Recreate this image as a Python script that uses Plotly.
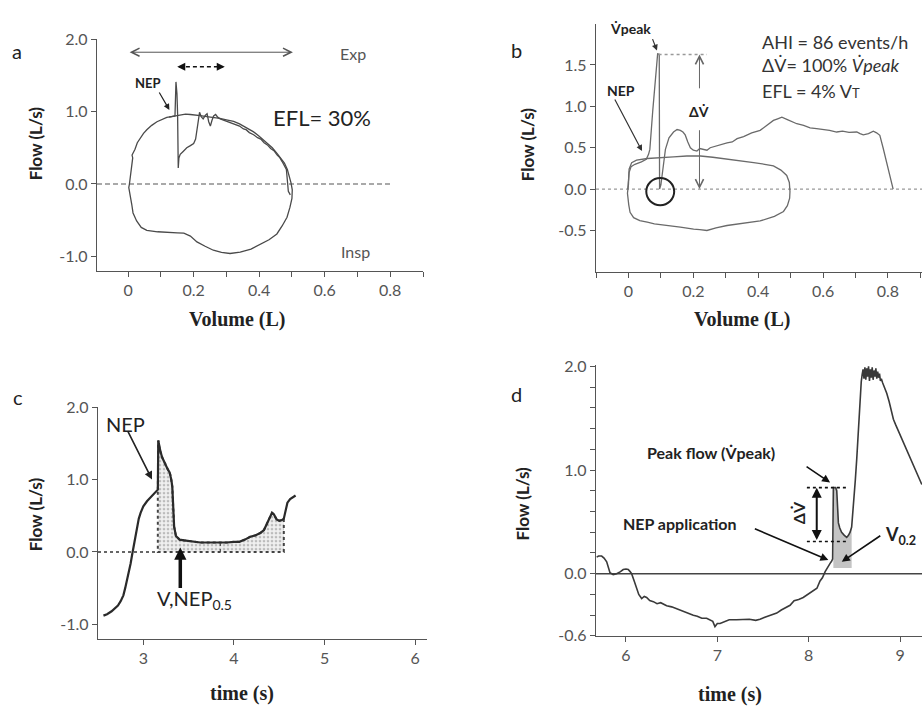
import plotly.graph_objects as go

W, H = 922, 714
def PX(x): return x / W
def PY(y): return 1 - y / H

SANS = "Lato"
SERIF = "Liberation Serif"
AX = "#555555"

# ---------------- data ----------------
# panel a : control loop + NEP breath (volume L, flow L/s)
a_ctrl_vol = [0.004, 0.007, 0.011, 0.014, 0.012, 0.021, 0.028, 0.037, 0.047, 0.057, 0.072, 0.088, 0.103, 0.118,
              0.132, 0.144, 0.160, 0.175, 0.190, 0.205, 0.220, 0.240, 0.260, 0.280, 0.300, 0.322, 0.340, 0.360,
              0.383, 0.400, 0.423, 0.440, 0.455, 0.466, 0.477, 0.486, 0.493, 0.497, 0.501, 0.500, 0.494, 0.485,
              0.470, 0.454, 0.430, 0.403, 0.375, 0.342, 0.311, 0.285, 0.260, 0.235, 0.210, 0.190, 0.170, 0.150,
              0.118, 0.090, 0.057, 0.040, 0.026, 0.015, 0.011, 0.006, 0.002, 0.004]
a_ctrl_flow = [0.00, 0.12, 0.30, 0.36, 0.40, 0.48, 0.57, 0.64, 0.70, 0.75, 0.81, 0.86, 0.89, 0.92,
               0.93, 0.94, 0.955, 0.965, 0.96, 0.955, 0.945, 0.93, 0.92, 0.905, 0.885, 0.865, 0.83, 0.78,
               0.72, 0.66, 0.57, 0.50, 0.42, 0.36, 0.29, 0.20, 0.10, 0.02, -0.08, -0.20, -0.32, -0.46,
               -0.58, -0.69, -0.77, -0.83, -0.90, -0.94, -0.96, -0.945, -0.915, -0.86, -0.80, -0.72, -0.68, -0.675,
               -0.67, -0.66, -0.64, -0.60, -0.51, -0.40, -0.28, -0.15, -0.05, 0.00]
a_nep_vol = [0.125, 0.135, 0.143, 0.146, 0.149, 0.151, 0.153, 0.155, 0.159, 0.168, 0.179, 0.190, 0.200, 0.206,
             0.210, 0.214, 0.218, 0.223, 0.229, 0.236, 0.241, 0.246, 0.251, 0.256, 0.261, 0.267, 0.274, 0.281,
             0.300, 0.320, 0.340, 0.352, 0.360, 0.370, 0.383, 0.395, 0.405, 0.415, 0.425, 0.435, 0.445, 0.455,
             0.462, 0.470, 0.478, 0.483, 0.485, 0.486, 0.489, 0.495]
a_nep_flow = [0.925, 0.935, 0.94, 1.41, 1.25, 0.97, 0.22, 0.36, 0.41, 0.45, 0.50, 0.53, 0.56, 0.62,
              0.75, 0.93, 0.99, 0.93, 0.90, 0.95, 0.97, 0.86, 0.80, 0.88, 0.94, 0.96, 0.92, 0.90,
              0.87, 0.84, 0.80, 0.76, 0.75, 0.71, 0.68, 0.64, 0.62, 0.57, 0.54, 0.49, 0.46, 0.40,
              0.37, 0.31, 0.25, 0.20, 0.10, 0.00, -0.10, -0.15]

# panel b
b_ctrl_vol = [0.000, 0.002, 0.010, 0.025, 0.058, 0.100, 0.139, 0.180, 0.222, 0.260, 0.304, 0.350, 0.386, 0.420,
              0.447, 0.470, 0.488, 0.496, 0.498, 0.497, 0.490, 0.478, 0.450, 0.406, 0.360, 0.304, 0.270, 0.242,
              0.220, 0.201, 0.160, 0.119, 0.080, 0.058, 0.035, 0.016, 0.005, 0.001, -0.003, 0.000]
b_ctrl_flow = [0.05, 0.24, 0.32, 0.35, 0.37, 0.385, 0.39, 0.40, 0.40, 0.385, 0.365, 0.34, 0.32, 0.30,
               0.28, 0.23, 0.165, 0.08, -0.03, -0.11, -0.20, -0.27, -0.33, -0.385, -0.41, -0.44, -0.47, -0.50,
               -0.49, -0.485, -0.46, -0.44, -0.42, -0.40, -0.38, -0.345, -0.28, -0.19, -0.05, 0.05]
b_nep_vol = [-0.002, 0.002, 0.008, 0.020, 0.040, 0.055, 0.062, 0.066, 0.075, 0.082, 0.090, 0.095, 0.096, 0.100,
             0.108, 0.114, 0.125, 0.139, 0.150, 0.160, 0.168, 0.175, 0.183, 0.191, 0.200, 0.211, 0.220, 0.232,
             0.242, 0.252, 0.270, 0.290, 0.304, 0.320, 0.335, 0.355, 0.380, 0.406, 0.420, 0.435, 0.447, 0.460,
             0.473, 0.490, 0.505, 0.519, 0.540, 0.560, 0.580, 0.600, 0.620, 0.642, 0.660, 0.680, 0.704, 0.714,
             0.724, 0.740, 0.755, 0.765, 0.775, 0.785, 0.796, 0.806, 0.816]
b_nep_flow = [0.00, 0.20, 0.27, 0.30, 0.33, 0.36, 0.42, 0.48, 0.95, 1.30, 1.635, 1.63, 0.00, 0.05,
              0.30, 0.48, 0.62, 0.69, 0.72, 0.71, 0.69, 0.655, 0.57, 0.50, 0.47, 0.46, 0.49, 0.48,
              0.47, 0.50, 0.52, 0.55, 0.56, 0.57, 0.61, 0.635, 0.68, 0.71, 0.75, 0.79, 0.83, 0.85,
              0.87, 0.84, 0.81, 0.79, 0.77, 0.74, 0.73, 0.72, 0.71, 0.69, 0.70, 0.685, 0.69, 0.67,
              0.655, 0.67, 0.70, 0.68, 0.65, 0.50, 0.32, 0.15, 0.00]

# panel c (time s, flow L/s)
c_time = [2.56, 2.60, 2.65, 2.68, 2.72, 2.75, 2.78, 2.80, 2.82, 2.84, 2.86, 2.875, 2.89, 2.91, 2.93, 2.95, 2.97,
          3.00, 3.04, 3.07, 3.10, 3.13, 3.15, 3.16, 3.165, 3.175, 3.19, 3.21, 3.23, 3.25, 3.27, 3.29, 3.30,
          3.31, 3.32, 3.325, 3.33, 3.34, 3.36, 3.40, 3.45, 3.50, 3.55, 3.63, 3.70, 3.78, 3.85, 3.92, 4.00,
          4.06, 4.12, 4.18, 4.24, 4.29, 4.33, 4.36, 4.39, 4.42, 4.44, 4.47, 4.50, 4.53, 4.55, 4.57, 4.59,
          4.62, 4.65, 4.68]
c_flow = [-0.88, -0.86, -0.82, -0.79, -0.74, -0.68, -0.60, -0.50, -0.40, -0.28, -0.16, -0.05, 0.06, 0.22, 0.36,
          0.46, 0.54, 0.63, 0.70, 0.74, 0.78, 0.82, 0.85, 0.86, 1.54, 1.46, 1.38, 1.30, 1.24, 1.20, 1.14, 1.10,
          1.06, 0.99, 0.90, 0.75, 0.57, 0.35, 0.22, 0.17, 0.16, 0.15, 0.14, 0.13, 0.13, 0.13, 0.12, 0.13, 0.14,
          0.14, 0.17, 0.21, 0.23, 0.26, 0.30, 0.38, 0.48, 0.54, 0.52, 0.45, 0.43, 0.44, 0.46, 0.58, 0.68,
          0.73, 0.76, 0.78]
c_shade = (3.16, 4.55)
c_midline_t = 3.85

# panel d
d_time = [5.679, 5.70, 5.734, 5.76, 5.789, 5.81, 5.825, 5.86, 5.898, 5.94, 5.97, 6.00, 6.025, 6.045, 6.062,
          6.09, 6.117, 6.14, 6.172, 6.20, 6.226, 6.26, 6.30, 6.34, 6.38, 6.445, 6.50, 6.555, 6.60, 6.65,
          6.70, 6.737, 6.78, 6.83, 6.883, 6.92, 6.95, 6.974, 7.00, 7.03, 7.08, 7.13, 7.21, 7.28, 7.35,
          7.42, 7.467, 7.52, 7.58, 7.65, 7.70, 7.75, 7.796, 7.84, 7.89, 7.94, 7.99, 8.05, 8.09, 8.124,
          8.15, 8.18, 8.21, 8.234, 8.25, 8.262, 8.27, 8.28, 8.295, 8.307, 8.315, 8.325, 8.34, 8.36, 8.39,
          8.416, 8.435, 8.453, 8.47, 8.49, 8.51, 8.526, 8.545, 8.562, 8.575, 8.585, 8.595, 8.605, 8.615,
          8.625, 8.635, 8.645, 8.655, 8.665, 8.675, 8.685, 8.695, 8.705, 8.715, 8.725, 8.735, 8.745, 8.755,
          8.765, 8.775, 8.785, 8.795, 8.81, 8.83, 8.854, 8.88, 8.90, 8.927, 8.95, 8.98, 9.01, 9.036,
          9.06, 9.09, 9.12, 9.146, 9.17, 9.20, 9.238]
d_flow = [0.16, 0.17, 0.17, 0.15, 0.115, 0.06, 0.01, -0.01, 0.0, 0.02, 0.04, 0.045, 0.04, 0.02, 0.0,
          -0.07, -0.13, -0.20, -0.24, -0.22, -0.23, -0.26, -0.27, -0.29, -0.28, -0.31, -0.32, -0.34, -0.35, -0.37,
          -0.39, -0.40, -0.41, -0.43, -0.43, -0.45, -0.46, -0.51, -0.48, -0.48, -0.46, -0.445, -0.445, -0.44, -0.44,
          -0.45, -0.44, -0.42, -0.40, -0.38, -0.35, -0.33, -0.305, -0.26, -0.25, -0.23, -0.20, -0.165, -0.14, -0.07,
          -0.04, 0.02, 0.07, 0.10, 0.12, 0.14, 0.83, 0.83, 0.83, 0.80, 0.62, 0.49, 0.44, 0.40, 0.37,
          0.35, 0.37, 0.40, 0.45, 0.65, 0.90, 1.11, 1.45, 1.74, 1.85, 1.92, 1.97, 1.88, 1.99,
          1.87, 1.98, 1.90, 2.00, 1.86, 1.97, 1.89, 1.99, 1.87, 1.96, 1.90, 1.98, 1.88, 1.95,
          1.89, 1.93, 1.86, 1.88, 1.84, 1.80, 1.74, 1.66, 1.58, 1.49, 1.44, 1.38, 1.32, 1.27,
          1.22, 1.16, 1.10, 1.05, 1.00, 0.93, 0.86]
d_shade = (8.27, 8.47)
d_shade_base = 0.055
d_peak_level = 0.83
d_low_level = 0.31

assert len(a_ctrl_vol) == len(a_ctrl_flow)
assert len(a_nep_vol) == len(a_nep_flow)
assert len(b_ctrl_vol) == len(b_ctrl_flow)
assert len(b_nep_vol) == len(b_nep_flow)
assert len(c_time) == len(c_flow)
assert len(d_time) == len(d_flow)

# ticks / ranges
a_xrange, a_yrange = [-0.095, 0.9], [-1.2, 2.0]
b_xrange, b_yrange = [-0.1, 0.905], [-1.0, 2.0]
c_xrange, c_yrange = [2.5, 6.13], [-1.2, 2.0]
d_xrange, d_yrange = [5.672, 9.24], [-0.6, 2.01]
a_xticks, a_xlabels = [0, 0.2, 0.4, 0.6, 0.8], ["0", "0.2", "0.4", "0.6", "0.8"]
a_yticks, a_ylabels = [-1, 0, 1, 2], ["-1.0", "0.0", "1.0", "2.0"]
b_xticks, b_xlabels = a_xticks, a_xlabels
b_yticks, b_ylabels = [-0.5, 0, 0.5, 1, 1.5], ["-0.5", "0.0", "0.5", "1.0", "1.5"]
c_xticks, c_xlabels = [3, 4, 5, 6], ["3", "4", "5", "6"]
c_yticks, c_ylabels = [-1, 0, 1, 2], ["-1.0", "0.0", "1.0", "2.0"]
d_xticks, d_xlabels = [6, 7, 8, 9], ["6", "7", "8", "9"]
d_yticks, d_ylabels = [-0.6, 0, 1, 2], ["-0.6", "0.0", "1.0", "2.0"]

fig = go.Figure()

def line(x, y, xa, ya, color="#444", width=1.3, dash="solid", **kw):
    fig.add_trace(go.Scatter(x=x, y=y, xaxis=xa, yaxis=ya, mode="lines",
                             line=dict(color=color, width=width, dash=dash),
                             hoverinfo="skip", showlegend=False, **kw))

# ---- panel a ----
line([a_xrange[0], 0.8], [0, 0], "x", "y", color="#555", width=1.2, dash="5px,3px")
line(a_ctrl_vol, a_ctrl_flow, "x", "y", color="#4a4a4a", width=1.3)
line(a_nep_vol, a_nep_flow, "x", "y", color="#4a4a4a", width=1.3)
line([0.155, 0.29], [1.62, 1.62], "x", "y", color="#111", width=1.6, dash="4px,3px")

# ---- panel b ----
line([b_xrange[0], b_xrange[1]], [0, 0], "x2", "y2", color="#999", width=1.3, dash="dot")
line(b_ctrl_vol, b_ctrl_flow, "x2", "y2", color="#6a6a6a", width=1.3)
line(b_nep_vol, b_nep_flow, "x2", "y2", color="#6a6a6a", width=1.3)
line([0.093, 0.242], [1.627, 1.627], "x2", "y2", color="#999", width=1.3, dash="dot")

# ---- panel c ----
sx = [t for t in c_time if c_shade[0] <= t <= c_shade[1]]
sy = [f for t, f in zip(c_time, c_flow) if c_shade[0] <= t <= c_shade[1]]
fig.add_trace(go.Scatter(x=sx + [c_shade[1], c_shade[0], c_shade[0]],
                         y=sy + [0, 0, sy[0]], xaxis="x3", yaxis="y3", mode="lines",
                         fill="toself", fillcolor="rgba(0,0,0,0)",
                         fillpattern=dict(shape=".", fgcolor="#888", bgcolor="#f0f0f0", size=4, solidity=0.35),
                         line=dict(color="#444", width=2, dash="dot"),
                         hoverinfo="skip", showlegend=False))
mid_f = [f for t, f in zip(c_time, c_flow) if t == c_midline_t][0]
line([c_midline_t, c_midline_t], [0, mid_f], "x3", "y3", color="#555", width=1.3, dash="dot")
line([c_xrange[0], c_shade[0]], [0, 0], "x3", "y3", color="#666", width=2, dash="dot")
line(c_time, c_flow, "x3", "y3", color="#2a2a2a", width=2.2)

# ---- panel d ----
dx = [t for t in d_time if d_shade[0] <= t <= d_shade[1]]
dy = [f for t, f in zip(d_time, d_flow) if d_shade[0] <= t <= d_shade[1]]
fig.add_trace(go.Scatter(x=dx + [d_shade[1], d_shade[0]], y=dy + [d_shade_base, d_shade_base],
                         xaxis="x4", yaxis="y4", mode="lines", fill="toself", fillcolor="#c4c4c4",
                         line=dict(width=0), hoverinfo="skip", showlegend=False))
line([d_xrange[0], d_xrange[1]], [0, 0], "x4", "y4", color="#444", width=1.5)
line(d_time, d_flow, "x4", "y4", color="#3a3a3a", width=1.6)
line([7.98, 8.42], [d_peak_level, d_peak_level], "x4", "y4", color="#111", width=1.6, dash="dot")
line([7.98, 8.43], [d_low_level, d_low_level], "x4", "y4", color="#111", width=1.6, dash="dot")

# ---- axes ----
def axis(domain, rng, tv, tt, anchor, minor=None):
    d = dict(domain=domain, range=rng, tickmode="array", tickvals=tv, ticktext=tt,
             showline=True, linecolor=AX, linewidth=1.4, ticks="outside", ticklen=5,
             tickwidth=1.3, tickcolor=AX, showgrid=False, zeroline=False, anchor=anchor,
             tickfont=dict(family=SANS, size=16, color="#555"), fixedrange=True)
    if minor:
        d["minor"] = dict(ticks="outside", ticklen=5, tickwidth=1.3, tickcolor=AX, showgrid=False, **minor)
    return d

fig.update_layout(
    width=W, height=H, margin=dict(l=0, r=0, t=0, b=0),
    paper_bgcolor="white", plot_bgcolor="white", showlegend=False,
    font=dict(family=SANS, color="#222"),
    xaxis=axis([PX(97), PX(423)], a_xrange, a_xticks, a_xlabels, "y", dict(tickmode="linear", tick0=0, dtick=0.1)),
    yaxis=axis([PY(268), PY(30)], a_yrange, a_yticks, a_ylabels, "x"),
    xaxis2=axis([PX(596), 1.0], b_xrange, b_xticks, b_xlabels, "y2", dict(tickmode="linear", tick0=0, dtick=0.1)),
    yaxis2=axis([PY(269), PY(14)], b_yrange, b_yticks, b_ylabels, "x2"),
    xaxis3=axis([PX(98), PX(427)], c_xrange, c_xticks, c_xlabels, "y3"),
    yaxis3=axis([PY(646), PY(408)], c_yrange, c_yticks, c_ylabels, "x3"),
    xaxis4=axis([PX(596), 1.0], d_xrange, d_xticks, d_xlabels, "y4"),
    yaxis4=axis([PY(643), PY(365)], d_yrange, d_yticks, d_ylabels, "x4",
                dict(tickmode="linear", tick0=-0.6, dtick=0.2)),
)

# circle in b
fig.add_shape(type="circle", xref="x2", yref="y2", x0=0.055, x1=0.141, y0=-0.195, y1=0.135,
              line=dict(color="#222", width=2))

ann = []
def text(x, y, s, size=16, color="#222", family=SANS, bold=False, angle=0, xanchor="center"):
    if bold:
        s = "<b>" + s + "</b>"
    ann.append(dict(x=PX(x), y=PY(y), xref="paper", yref="paper", text=s, showarrow=False,
                    font=dict(family=family, size=size, color=color), textangle=angle,
                    xanchor=xanchor, yanchor="middle"))

def arrow(xr, yr, x, y, ax, ay, color="#222", width=1.3, head=2, size=1.0, both=False, data_tail=False):
    d = dict(x=x, y=y, xref=xr, yref=yr, ax=ax, ay=ay, text="", showarrow=True,
             arrowcolor=color, arrowwidth=width, arrowhead=head, arrowsize=size)
    if data_tail:
        d["axref"] = xr
        d["ayref"] = yr
    if both:
        d["arrowside"] = "end+start"
        d["startarrowhead"] = head
        d["startarrowsize"] = size
    ann.append(d)

DV = "\u0394V\u0307"
VP = "V\u0307peak"

# panel a texts
text(17, 42, "a", 20)
text(353, 45, "Exp", 16, "#555")
text(355, 248, "Insp", 16, "#555")
text(322, 110, "EFL= 30%", 22)
text(148, 75, "NEP", 13, bold=True)
text(35, 137, "Flow (L/s)", 17, bold=True, angle=-90)
text(237, 318, "Volume (L)", 20, family=SERIF, bold=True)
arrow("x", "y", 0.126, 1.023, -11, -19, width=1.2)
arrow("x", "y", 0.503, 1.82, 0.0, 1.82, color="#555", width=1, head=5, size=1.6, both=True, data_tail=True)
arrow("x", "y", 0.295, 1.62, -6, 0, color="#111", width=1.6, head=2, size=1.0)
arrow("x", "y", 0.150, 1.62, 6, 0, color="#111", width=1.6, head=2, size=1.0)

# panel b texts
text(516, 41, "b", 20)
text(630, 19, VP, 14, bold=True)
text(621, 83, "NEP", 14, bold=True)
text(699, 104, DV, 14, bold=True)
text(760, 33, "AHI = 86 events/h", 18, "#333", xanchor="left")
text(760, 57, DV + "= 100% <i>" + VP + "</i>", 18, "#333", xanchor="left")
text(760, 83, "EFL = 4% V<span style='font-size:13px'>T</span>", 18, "#333", xanchor="left")
text(527, 138, "Flow (L/s)", 17, bold=True, angle=-90)
text(742, 318, "Volume (L)", 20, family=SERIF, bold=True)
arrow("x2", "y2", 0.042, 0.46, -28, -53, color="#333", width=1.2)
arrow("x2", "y2", 0.088, 1.674, -5, -13, color="#333", width=1.2)
arrow("x2", "y2", 0.219, 1.627, 0.219, 1.20, color="#666", width=1, head=5, size=1.6, data_tail=True)
arrow("x2", "y2", 0.219, 0.0, 0.219, 0.73, color="#666", width=1, head=5, size=1.6, data_tail=True)

# panel c texts
text(18, 398, "c", 20)
text(126, 425, "NEP", 20)
text(155, 606, "V,NEP<sub>0.5</sub>", 20, xanchor="left")
text(35, 518, "Flow (L/s)", 17, bold=True, angle=-90)
text(242, 702, "time (s)", 20, family=SERIF, bold=True)
arrow("x3", "y3", 3.096, 1.0, -25, -50, color="#222", width=1.6)
arrow("x3", "y3", 3.408, 0.06, 0, 42, color="#111", width=3.5, head=2, size=0.7)

# panel d texts
text(516, 395, "d", 20)
text(711, 455, "Peak flow (" + VP + ")", 16, bold=True)
text(679, 528, "NEP application", 16, bold=True)
text(798, 517, DV, 16, bold=True, angle=-90)
text(900, 540, "V<sub>0.2</sub>", 18, bold=True)
text(523, 507, "Flow (L/s)", 17, bold=True, angle=-90)
text(730, 703, "time (s)", 20, family=SERIF, bold=True)
arrow("x4", "y4", 8.234, 0.879, -25, -17, color="#111", width=1.6)
arrow("x4", "y4", 8.215, 0.131, -75, -32, color="#111", width=1.6)
arrow("x4", "y4", 8.362, 0.115, 40, -27, color="#111", width=1.6)
arrow("x4", "y4", 8.088, d_peak_level, 8.088, d_low_level, color="#111", width=2, head=2, size=1.0,
      both=True, data_tail=True)

fig.update_layout(annotations=ann)
fig.write_html("out.html")
